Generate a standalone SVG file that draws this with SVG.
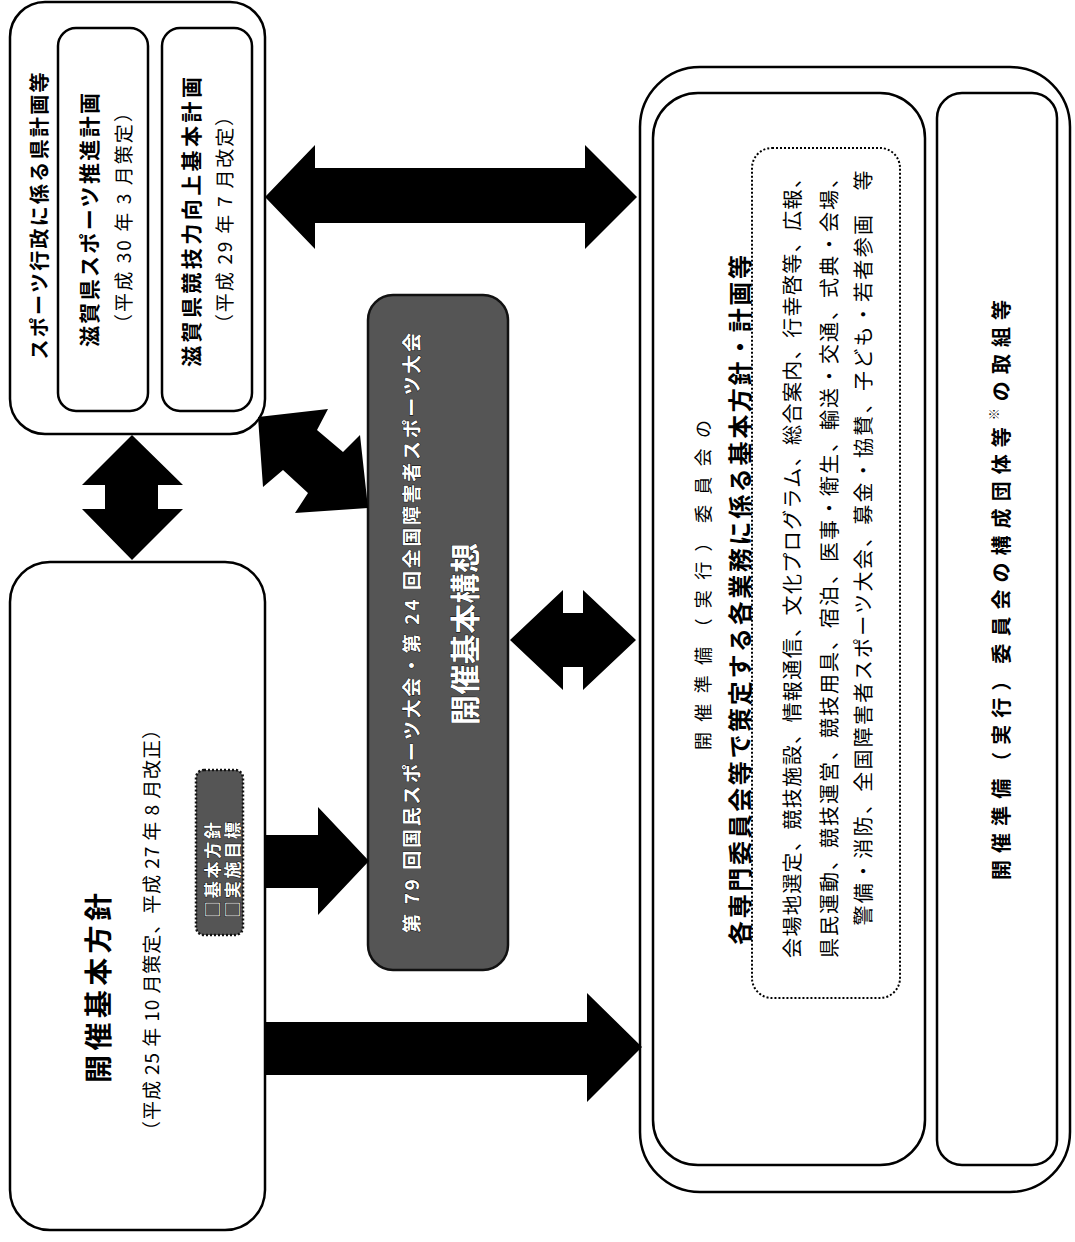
<svg xmlns="http://www.w3.org/2000/svg" width="1075" height="1242" viewBox="0 0 1075 1242">
<style>
.box{fill:#fff;stroke:#000;stroke-width:2.5}
.dark{fill:#555;stroke:#111;stroke-width:2.5}
.dot{fill:none;stroke:#000;stroke-width:2;stroke-dasharray:2 2}
.arr{fill:#000;stroke:none}
text{font-family:"Noto Sans CJK JP","Noto Sans CJK SC",sans-serif;fill:#000;text-anchor:middle;dominant-baseline:central}
.b{font-weight:bold}
.w{fill:#fff;stroke:#000;stroke-width:0.8;paint-order:stroke;font-weight:bold}
</style>
<rect width="1075" height="1242" fill="#fff"/>

<g id="kenkeikaku">
<rect class="box" x="10" y="2" width="255" height="432" rx="35"/>
<text class="b" transform="translate(38,216) rotate(-90)" font-size="20" textLength="287" lengthAdjust="spacing">スポーツ行政に係る県計画等</text>
</g>
<g id="suishinkeikaku">
<rect class="box" x="58" y="28" width="90" height="383" rx="18"/>
<text class="b" transform="translate(88,220) rotate(-90)" font-size="21" textLength="254" lengthAdjust="spacing">滋賀県スポーツ推進計画</text>
<text transform="translate(122,218) rotate(-90)" font-size="19" textLength="230" lengthAdjust="spacing">（平成 30 年 3 月策定）</text>
</g>
<g id="kyogiryoku">
<rect class="box" x="162" y="28" width="90" height="383" rx="18"/>
<text class="b" transform="translate(190,222) rotate(-90)" font-size="21" textLength="290" lengthAdjust="spacing">滋賀県競技力向上基本計画</text>
<text transform="translate(223,220) rotate(-90)" font-size="19" textLength="226" lengthAdjust="spacing">（平成 29 年 7 月改定）</text>
</g>

<g id="kihonhoshin">
<rect class="box" x="10" y="562" width="255" height="668" rx="40"/>
<text class="b" transform="translate(97,988) rotate(-90)" font-size="28" textLength="190" lengthAdjust="spacing">開催基本方針</text>
<text transform="translate(150,930) rotate(-90)" font-size="19" textLength="420" lengthAdjust="spacing">（平成 25 年 10 月策定、平成 27 年 8 月改正）</text>
<rect class="dark" x="196" y="770" width="47" height="165" rx="8" stroke-dasharray="2 2"/>
<text class="w" transform="translate(211,870) rotate(-90)" font-size="17" textLength="96" lengthAdjust="spacing">□基本方針</text>
<text class="w" transform="translate(231,870) rotate(-90)" font-size="17" textLength="96" lengthAdjust="spacing">□実施目標</text>
</g>

<g id="kihonkoso">
<rect class="dark" x="368" y="295" width="140" height="675" rx="25"/>
<text class="w" transform="translate(410,633) rotate(-90)" font-size="19" textLength="600" lengthAdjust="spacing">第 79 回国民スポーツ大会・第 24 回全国障害者スポーツ大会</text>
<text class="w" transform="translate(463,634) rotate(-90)" font-size="30" textLength="182" lengthAdjust="spacing">開催基本構想</text>
</g>

<g id="iinkai">
<rect class="box" x="640" y="67" width="430" height="1125" rx="60"/>
<rect class="box" x="653" y="93" width="272" height="1072" rx="45"/>
<text transform="translate(702,585) rotate(-90)" font-size="18" textLength="330" lengthAdjust="spacing">開催準備（実行）委員会の</text>
<text class="b" transform="translate(738,600) rotate(-90)" font-size="24" textLength="690" lengthAdjust="spacing">各専門委員会等で策定する各業務に係る基本方針・計画等</text>
<rect class="dot" x="752" y="148" width="148" height="850" rx="20"/>
<text transform="translate(791,563) rotate(-90)" font-size="20" textLength="790" lengthAdjust="spacing">会場地選定、競技施設、情報通信、文化プログラム、総合案内、行幸啓等、広報、</text>
<text transform="translate(828,563) rotate(-90)" font-size="20" textLength="790" lengthAdjust="spacing">県民運動、競技運営、競技用具、宿泊、医事・衛生、輸送・交通、式典・会場、</text>
<text transform="translate(862,548) rotate(-90)" font-size="20" textLength="755" lengthAdjust="spacing">警備・消防、全国障害者スポーツ大会、募金・協賛、子ども・若者参画　等</text>
</g>
<g id="kosei">
<rect class="box" x="937" y="93" width="120" height="1072" rx="25"/>
<text class="b" transform="translate(1000,590) rotate(-90)" font-size="20" textLength="580" lengthAdjust="spacing">開催準備（実行）委員会の構成団体等<tspan font-size="12" dy="-7">※</tspan><tspan dy="7">の取組等</tspan></text>
</g>

<g id="connectors">
<polygon class="arr" points="265,197 315,145 315,168 585,168 585,145 637,197 585,249 585,223 315,223 315,249"/>
<polygon class="arr" points="132,435 183,485 158,485 158,509 183,509 132,560 82,509 105,509 105,485 82,485"/>
<polygon class="arr" points="510,640 563,590 563,613 583,613 583,590 636,640 583,690 583,667 563,667 563,690"/>
<polygon class="arr" points="265,835 318,835 318,807 369,861 318,915 318,888 265,888"/>
<polygon class="arr" points="265,1022 587,1022 587,993 642,1047 587,1102 587,1075 265,1075"/>
<polygon class="arr" points="258,417 328,409 317,430 343,452 360,435 368,508 295,513 308,493 283,470 263,487"/>
</g>
</svg>
